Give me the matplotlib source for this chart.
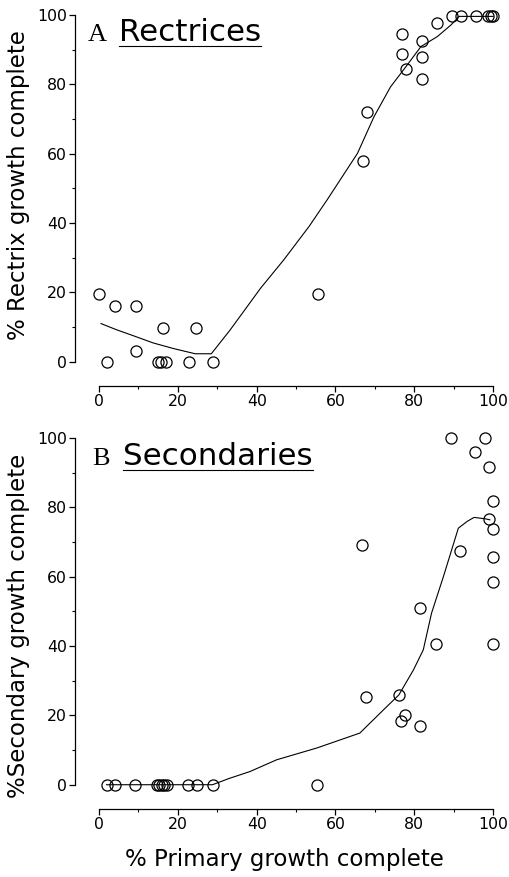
import numpy as np
import matplotlib
matplotlib.use("Agg")
from matplotlib import pyplot as plt
from matplotlib.lines import Line2D

plt.rcParams['font.family'] = ['DejaVu Sans']

# panel A: rectrices
rect_x = [0, 2, 4, 9.3, 9.3, 16.2, 14.9, 15.7, 17.0, 22.8, 24.7, 28.8, 55.6,
          66.9, 67.9, 77.0, 77.0, 78.0, 81.9, 81.9, 81.9, 85.8, 89.6, 91.9,
          95.8, 98.6, 99.4, 100]
rect_y = [19.6, 0, 16.1, 16.1, 3.2, 9.6, 0, 0, 0, 0, 9.6, 0, 19.5,
          58.0, 72.1, 94.4, 88.8, 84.3, 92.5, 87.8, 81.4, 97.8, 99.8, 99.8,
          99.8, 99.8, 99.8, 99.8]
rect_fit_x = [0.5, 4.5, 8.7, 13.8, 18.9, 24.4, 28.5, 33.3, 41, 46.9, 53.3,
              57.9, 65.6, 69.8, 74.0, 77.9, 81.7, 85.9, 89.3, 91.4, 100]
rect_fit_y = [11.0, 9.2, 7.5, 5.4, 3.8, 2.3, 2.3, 9.2, 21.2, 29.4, 39,
              46.7, 60.1, 70.7, 79.3, 85.1, 90.9, 93.8, 97.1, 99.6, 99.6]

# panel B: secondaries
sec_x = [1.9, 4.0, 9.2, 14.6, 15.3, 15.9, 16.5, 17.2, 22.7, 24.8, 28.8,
         55.4, 67.7, 76.1, 77.7, 76.6, 81.5, 66.7, 81.5, 85.5, 91.5, 99.1,
         100, 100, 100, 100, 100, 99.1, 95.4, 89.3, 98]
sec_y = [0, 0, 0, 0, 0, 0, 0, 0, 0, 0, 0,
         0, 25.4, 25.9, 20.2, 18.4, 16.8, 69.2, 50.9, 40.6, 67.4, 76.6,
         73.7, 81.8, 65.8, 58.4, 40.6, 91.6, 96, 100, 100]
sec_fit_x = [1.9, 28.8, 33, 38.3, 45.1, 55.3, 66.2, 72.2, 76.1, 79.8, 82.3,
             84.4, 87.4, 91.2, 93.5, 95.2, 98, 99.2]
sec_fit_y = [0, 0, 1.8, 3.8, 7.2, 10.6, 14.9, 21.6, 25.9, 33.1, 38.9,
             49.5, 60, 74, 76, 77.1, 76.7, 76.4]

ticks = [0, 20, 40, 60, 80, 100]

W, H = 509, 877
fig = plt.figure(figsize=(W / 100, H / 100), dpi=100)
axA = fig.add_axes([75.4 / W, 1 - 386 / H, 425.5 / W, 381.4 / H])
axB = fig.add_axes([75.4 / W, 1 - 809 / H, 425.5 / W, 381.4 / H])


def style(ax):
    ax.set_xlim(-6, 102)
    ax.set_ylim(-7, 103)
    for s in ['top', 'right']:
        ax.spines[s].set_visible(False)
    ax.spines['left'].set_bounds(0, 100)
    ax.spines['bottom'].set_bounds(0, 100)
    for s in ['left', 'bottom']:
        ax.spines[s].set_linewidth(0.9)
    ax.set_xticks(ticks)
    ax.set_yticks(ticks)
    ax.set_xticks(np.arange(10, 100, 20), minor=True)
    ax.set_yticks(np.arange(10, 100, 20), minor=True)
    ax.tick_params(which='major', direction='out', length=4, width=0.9,
                   labelsize=11.3, pad=2)
    ax.tick_params(which='minor', direction='out', length=2.5, width=0.8)


def panel_title(ax, letter, word, x, y):
    ax.text(x, y, letter, family=['Liberation Serif', 'DejaVu Serif'],
            fontsize=19, va='baseline', ha='left')
    t = ax.text(x + 7.9, y, word, fontsize=22.3, va='baseline', ha='left')
    fig.canvas.draw()
    bb = t.get_window_extent()
    base = ax.transData.transform((x, y))[1] - 4.5
    fig.add_artist(Line2D([bb.x0 / W, bb.x1 / W], [base / H, base / H],
                          transform=fig.transFigure, color='black', lw=0.8))


for ax, px, py, fx, fy in [(axA, rect_x, rect_y, rect_fit_x, rect_fit_y),
                           (axB, sec_x, sec_y, sec_fit_x, sec_fit_y)]:
    style(ax)
    ax.plot(fx, fy, color='black', lw=0.8, zorder=2)
    ax.plot(px, py, 'o', ms=8, mfc='none', mec='black', mew=0.9,
            zorder=3, clip_on=False)

fig.text(19 / W, 1 - 185 / H, '% Rectrix growth complete', fontsize=16.5,
         rotation=90, ha='center', va='center')
fig.text(19 / W, 1 - 626 / H, '%Secondary growth complete', fontsize=16.5,
         rotation=90, ha='center', va='center')
fig.text(284 / W, 1 - 866 / H, '% Primary growth complete', fontsize=16.5,
         ha='center', va='baseline')

panel_title(axA, 'A', 'Rectrices', -2.8, 92.5)
panel_title(axB, 'B', 'Secondaries', -1.8, 92.2)

fig.savefig('out.png', dpi=100)
